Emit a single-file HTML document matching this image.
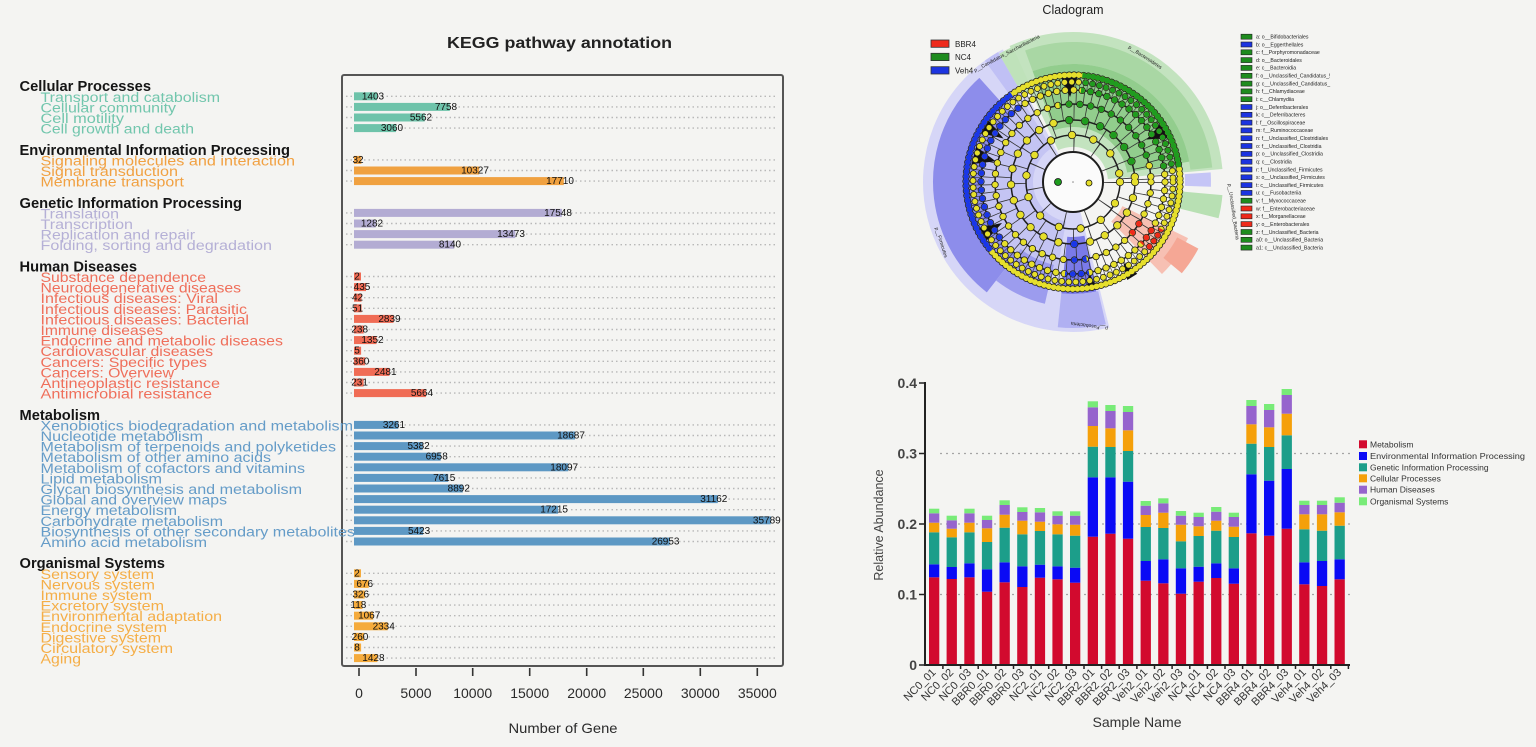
<!DOCTYPE html>
<html><head><meta charset="utf-8"><style>
html,body{margin:0;padding:0;background:#f4f4f2;}
svg{display:block;}
text{font-family:"Liberation Sans",Arial,sans-serif;}
</style></head><body>
<svg width="1536" height="747" viewBox="0 0 1536 747" xmlns="http://www.w3.org/2000/svg">
<rect x="0" y="0" width="1536" height="747" fill="#f4f4f2"/>

<!-- ================= LEFT: KEGG ================= -->
<text x="559.5" y="48" font-size="16" font-weight="bold" text-anchor="middle" textLength="225" lengthAdjust="spacingAndGlyphs" fill="#222">KEGG pathway annotation</text>

<rect x="342" y="75" width="441" height="591" rx="2" fill="none" stroke="#555" stroke-width="2"/>

<path fill="none" stroke="#b8b8b8" stroke-width="1.4" stroke-dasharray="1.5 3" d="M346 96.3H778M346 106.9H778M346 117.5H778M346 128.1H778M346 159.9H778M346 170.5H778M346 181.1H778M346 212.9H778M346 223.5H778M346 234.1H778M346 244.7H778M346 276.5H778M346 287.1H778M346 297.7H778M346 308.3H778M346 318.9H778M346 329.5H778M346 340.1H778M346 350.7H778M346 361.3H778M346 371.9H778M346 382.5H778M346 393.1H778M346 424.9H778M346 435.5H778M346 446.1H778M346 456.7H778M346 467.3H778M346 477.9H778M346 488.5H778M346 499.1H778M346 509.7H778M346 520.3H778M346 530.9H778M346 541.5H778M346 573.3H778M346 583.9H778M346 594.5H778M346 605.1H778M346 615.7H778M346 626.3H778M346 636.9H778M346 647.5H778M346 658.1H778"/>

<!-- bars -->
<g fill="#6ec3aa">
<rect x="354" y="92.3" width="23.1" height="8"/>
<rect x="354" y="102.9" width="95.8" height="8"/>
<rect x="354" y="113.5" width="70.7" height="8"/>
<rect x="354" y="124.1" width="42" height="8"/>
</g>
<g fill="#f0a140">
<rect x="354" y="155.9" width="7.4" height="8"/>
<rect x="354" y="166.5" width="125.2" height="8"/>
<rect x="354" y="177.1" width="209.8" height="8"/>
</g>
<g fill="#b3acd3">
<rect x="354" y="208.9" width="207.9" height="8"/>
<rect x="354" y="219.5" width="21.7" height="8"/>
<rect x="354" y="230.1" width="161.3" height="8"/>
<rect x="354" y="240.7" width="100.2" height="8"/>
</g>
<g fill="#f06c55">
<rect x="354" y="272.5" width="7" height="8"/>
<rect x="354" y="283.1" width="12" height="8"/>
<rect x="354" y="293.7" width="7.5" height="8"/>
<rect x="354" y="304.3" width="7.6" height="8"/>
<rect x="354" y="314.9" width="39.5" height="8"/>
<rect x="354" y="325.5" width="9.7" height="8"/>
<rect x="354" y="336.1" width="22.5" height="8"/>
<rect x="354" y="346.7" width="7.1" height="8"/>
<rect x="354" y="357.3" width="11.1" height="8"/>
<rect x="354" y="367.9" width="35.4" height="8"/>
<rect x="354" y="378.5" width="9.6" height="8"/>
<rect x="354" y="389.1" width="71.9" height="8"/>
</g>
<g fill="#5d98c4">
<rect x="354" y="420.9" width="44.3" height="8"/>
<rect x="354" y="431.5" width="221" height="8"/>
<rect x="354" y="442.1" width="68.6" height="8"/>
<rect x="354" y="452.7" width="86.7" height="8"/>
<rect x="354" y="463.3" width="214.2" height="8"/>
<rect x="354" y="473.9" width="94.2" height="8"/>
<rect x="354" y="484.5" width="108.8" height="8"/>
<rect x="354" y="495.1" width="363.8" height="8"/>
<rect x="354" y="505.7" width="204.1" height="8"/>
<rect x="354" y="516.3" width="416.8" height="8"/>
<rect x="354" y="526.9" width="69.1" height="8"/>
<rect x="354" y="537.5" width="315.6" height="8"/>
</g>
<g fill="#f5ab3c">
<rect x="354" y="569.3" width="7" height="8"/>
<rect x="354" y="579.9" width="14.7" height="8"/>
<rect x="354" y="590.5" width="10.7" height="8"/>
<rect x="354" y="601.1" width="8.4" height="8"/>
<rect x="354" y="611.7" width="19.2" height="8"/>
<rect x="354" y="622.3" width="33.7" height="8"/>
<rect x="354" y="632.9" width="10" height="8"/>
<rect x="354" y="643.5" width="7.1" height="8"/>
<rect x="354" y="654.1" width="23.4" height="8"/>
</g>

<!-- value labels -->
<g font-size="10" fill="#111" text-anchor="middle">
<text x="373" y="99.3">1403</text>
<text x="446" y="109.9">7758</text>
<text x="421" y="120.5">5562</text>
<text x="392" y="131.1">3060</text>
<text x="358" y="162.9">32</text>
<text x="475" y="173.5">10327</text>
<text x="560" y="184.1">17710</text>
<text x="558" y="215.9">17548</text>
<text x="372" y="226.5">1282</text>
<text x="511" y="237.1">13473</text>
<text x="450" y="247.7">8140</text>
<text x="357" y="279.5">2</text>
<text x="362" y="290.1">435</text>
<text x="357.5" y="300.7">42</text>
<text x="357.6" y="311.3">51</text>
<text x="389.5" y="321.9">2839</text>
<text x="359.7" y="332.5">238</text>
<text x="372.5" y="343.1">1352</text>
<text x="357" y="353.7">5</text>
<text x="361" y="364.3">360</text>
<text x="385.4" y="374.9">2481</text>
<text x="359.6" y="385.5">231</text>
<text x="422" y="396.1">5664</text>
<text x="394" y="427.9">3261</text>
<text x="571" y="438.5">18687</text>
<text x="418.6" y="449.1">5382</text>
<text x="436.7" y="459.7">6958</text>
<text x="564.2" y="470.3">18097</text>
<text x="444.2" y="480.9">7615</text>
<text x="458.8" y="491.5">8892</text>
<text x="713.8" y="502.1">31162</text>
<text x="554.1" y="512.7">17215</text>
<text x="766.8" y="523.3">35789</text>
<text x="419.1" y="533.9">5423</text>
<text x="665.6" y="544.5">26953</text>
<text x="357" y="576.3">2</text>
<text x="364.7" y="586.9">676</text>
<text x="360.7" y="597.5">326</text>
<text x="358.4" y="608.1">118</text>
<text x="369.2" y="618.7">1067</text>
<text x="383.7" y="629.3">2334</text>
<text x="360" y="639.9">260</text>
<text x="357" y="650.5">8</text>
<text x="373.4" y="661.1">1428</text>
</g>

<!-- category labels -->
<g font-size="14.5" font-weight="bold" fill="#151515" lengthAdjust="spacingAndGlyphs">
<text x="19.5" y="91.2" textLength="131.5" lengthAdjust="spacingAndGlyphs">Cellular Processes</text>
<text x="19.5" y="154.8" textLength="270.5" lengthAdjust="spacingAndGlyphs">Environmental Information Processing</text>
<text x="19.5" y="207.8" textLength="222.5" lengthAdjust="spacingAndGlyphs">Genetic Information Processing</text>
<text x="19.5" y="271.4" textLength="117.5" lengthAdjust="spacingAndGlyphs">Human Diseases</text>
<text x="19.5" y="419.8" textLength="80.5" lengthAdjust="spacingAndGlyphs">Metabolism</text>
<text x="19.5" y="568.2" textLength="145.5" lengthAdjust="spacingAndGlyphs">Organismal Systems</text>
</g>
<g font-size="13.5">
<g fill="#72c6ad">
<text x="40.5" y="101.8" textLength="179.5" lengthAdjust="spacingAndGlyphs">Transport and catabolism</text>
<text x="40.5" y="112.4" textLength="135.5" lengthAdjust="spacingAndGlyphs">Cellular community</text>
<text x="40.5" y="123" textLength="83.5" lengthAdjust="spacingAndGlyphs">Cell motility</text>
<text x="40.5" y="133.6" textLength="153.5" lengthAdjust="spacingAndGlyphs">Cell growth and death</text>
</g>
<g fill="#f1a142">
<text x="40.5" y="165.4" textLength="254.5" lengthAdjust="spacingAndGlyphs">Signaling molecules and interaction</text>
<text x="40.5" y="176" textLength="137.5" lengthAdjust="spacingAndGlyphs">Signal transduction</text>
<text x="40.5" y="186.6" textLength="143.5" lengthAdjust="spacingAndGlyphs">Membrane transport</text>
</g>
<g fill="#b5b0d6">
<text x="40.5" y="218.4" textLength="78.5" lengthAdjust="spacingAndGlyphs">Translation</text>
<text x="40.5" y="229" textLength="92.5" lengthAdjust="spacingAndGlyphs">Transcription</text>
<text x="40.5" y="239.6" textLength="154.5" lengthAdjust="spacingAndGlyphs">Replication and repair</text>
<text x="40.5" y="250.2" textLength="231.5" lengthAdjust="spacingAndGlyphs">Folding, sorting and degradation</text>
</g>
<g fill="#ef6f5b">
<text x="40.5" y="282" textLength="165.5" lengthAdjust="spacingAndGlyphs">Substance dependence</text>
<text x="40.5" y="292.6" textLength="200.5" lengthAdjust="spacingAndGlyphs">Neurodegenerative diseases</text>
<text x="40.5" y="303.2" textLength="177.5" lengthAdjust="spacingAndGlyphs">Infectious diseases: Viral</text>
<text x="40.5" y="313.8" textLength="206.5" lengthAdjust="spacingAndGlyphs">Infectious diseases: Parasitic</text>
<text x="40.5" y="324.4" textLength="208.5" lengthAdjust="spacingAndGlyphs">Infectious diseases: Bacterial</text>
<text x="40.5" y="335" textLength="122.5" lengthAdjust="spacingAndGlyphs">Immune diseases</text>
<text x="40.5" y="345.6" textLength="242.5" lengthAdjust="spacingAndGlyphs">Endocrine and metabolic diseases</text>
<text x="40.5" y="356.2" textLength="172.5" lengthAdjust="spacingAndGlyphs">Cardiovascular diseases</text>
<text x="40.5" y="366.8" textLength="166.5" lengthAdjust="spacingAndGlyphs">Cancers: Specific types</text>
<text x="40.5" y="377.4" textLength="133.5" lengthAdjust="spacingAndGlyphs">Cancers: Overview</text>
<text x="40.5" y="388" textLength="179.5" lengthAdjust="spacingAndGlyphs">Antineoplastic resistance</text>
<text x="40.5" y="398.6" textLength="171.5" lengthAdjust="spacingAndGlyphs">Antimicrobial resistance</text>
</g>
<g fill="#659cc8">
<text x="40.5" y="430.4" textLength="312.5" lengthAdjust="spacingAndGlyphs">Xenobiotics biodegradation and metabolism</text>
<text x="40.5" y="441" textLength="162.5" lengthAdjust="spacingAndGlyphs">Nucleotide metabolism</text>
<text x="40.5" y="451.6" textLength="295.5" lengthAdjust="spacingAndGlyphs">Metabolism of terpenoids and polyketides</text>
<text x="40.5" y="462.2" textLength="230.5" lengthAdjust="spacingAndGlyphs">Metabolism of other amino acids</text>
<text x="40.5" y="472.8" textLength="264.5" lengthAdjust="spacingAndGlyphs">Metabolism of cofactors and vitamins</text>
<text x="40.5" y="483.4" textLength="121.5" lengthAdjust="spacingAndGlyphs">Lipid metabolism</text>
<text x="40.5" y="494" textLength="261.5" lengthAdjust="spacingAndGlyphs">Glycan biosynthesis and metabolism</text>
<text x="40.5" y="504.6" textLength="186.5" lengthAdjust="spacingAndGlyphs">Global and overview maps</text>
<text x="40.5" y="515.2" textLength="136.5" lengthAdjust="spacingAndGlyphs">Energy metabolism</text>
<text x="40.5" y="525.8" textLength="182.5" lengthAdjust="spacingAndGlyphs">Carbohydrate metabolism</text>
<text x="40.5" y="536.4" textLength="314.5" lengthAdjust="spacingAndGlyphs">Biosynthesis of other secondary metabolites</text>
<text x="40.5" y="547" textLength="166.5" lengthAdjust="spacingAndGlyphs">Amino acid metabolism</text>
</g>
<g fill="#f5ae47">
<text x="40.5" y="578.8" textLength="113.5" lengthAdjust="spacingAndGlyphs">Sensory system</text>
<text x="40.5" y="589.4" textLength="114.5" lengthAdjust="spacingAndGlyphs">Nervous system</text>
<text x="40.5" y="600" textLength="111.5" lengthAdjust="spacingAndGlyphs">Immune system</text>
<text x="40.5" y="610.6" textLength="123.5" lengthAdjust="spacingAndGlyphs">Excretory system</text>
<text x="40.5" y="621.2" textLength="181.5" lengthAdjust="spacingAndGlyphs">Environmental adaptation</text>
<text x="40.5" y="631.8" textLength="126.5" lengthAdjust="spacingAndGlyphs">Endocrine system</text>
<text x="40.5" y="642.4" textLength="120.5" lengthAdjust="spacingAndGlyphs">Digestive system</text>
<text x="40.5" y="653" textLength="132.5" lengthAdjust="spacingAndGlyphs">Circulatory system</text>
<text x="40.5" y="663.6" textLength="40.5" lengthAdjust="spacingAndGlyphs">Aging</text>
</g>
</g>

<!-- x axis ticks -->
<path stroke="#333" stroke-width="1.6" d="M359 668V676M416 668V676M472.7 668V676M529.7 668V676M586.7 668V676M643.3 668V676M700.3 668V676M757.3 668V676"/>
<g font-size="14" fill="#2a2a2a" text-anchor="middle">
<text x="359" y="698">0</text>
<text x="416" y="698">5000</text>
<text x="472.7" y="698">10000</text>
<text x="529.7" y="698">15000</text>
<text x="586.7" y="698">20000</text>
<text x="643.3" y="698">25000</text>
<text x="700.3" y="698">30000</text>
<text x="757.3" y="698">35000</text>
</g>
<text x="563" y="733" font-size="14" fill="#2a2a2a" text-anchor="middle" textLength="109" lengthAdjust="spacingAndGlyphs">Number of Gene</text>

<!-- ================= CLADOGRAM ================= -->
<defs>
<mask id="mG" maskUnits="userSpaceOnUse" x="900" y="0" width="360" height="360"><circle cx="1073" cy="182" r="80" fill="none" stroke="#fff" stroke-width="160" stroke-dasharray="107.5 3000" transform="rotate(-85 1073 182)"/></mask>
<mask id="mG2" maskUnits="userSpaceOnUse" x="900" y="0" width="360" height="360"><circle cx="1073" cy="182" r="80" fill="none" stroke="#fff" stroke-width="160" stroke-dasharray="118.7 3000" transform="rotate(-100 1073 182)"/></mask>
<mask id="mB" maskUnits="userSpaceOnUse" x="900" y="0" width="360" height="360"><circle cx="1073" cy="182" r="80" fill="none" stroke="#fff" stroke-width="160" stroke-dasharray="132.6 3000" transform="rotate(140 1073 182)"/></mask>
<mask id="mF" maskUnits="userSpaceOnUse" x="900" y="0" width="360" height="360"><circle cx="1073" cy="182" r="80" fill="none" stroke="#fff" stroke-width="160" stroke-dasharray="20.9 3000" transform="rotate(80 1073 182)"/></mask>
<mask id="mR" maskUnits="userSpaceOnUse" x="900" y="0" width="360" height="360"><circle cx="1073" cy="182" r="80" fill="none" stroke="#fff" stroke-width="160" stroke-dasharray="19.5 3000" transform="rotate(28 1073 182)"/></mask>
</defs>

<text x="1073" y="14" font-size="12.5" fill="#222" text-anchor="middle">Cladogram</text>

<g fill="none">
<!-- blue sectors -->
<circle cx="1073" cy="182" r="90" stroke="#d6d6f7" stroke-width="120" stroke-dasharray="260.8 3000" transform="rotate(76 1073 182)"/>
<circle cx="1073" cy="182" r="67.5" stroke="#c4c4f3" stroke-width="55" stroke-dasharray="162.6 3000" transform="rotate(100 1073 182)"/>
<circle cx="1073" cy="182" r="116.5" stroke="#8d8deb" stroke-width="47" stroke-dasharray="203.3 3000" transform="rotate(128 1073 182)"/>
<circle cx="1073" cy="182" r="105" stroke="#9c9cee" stroke-width="40" stroke-dasharray="45.8 3000" transform="rotate(103 1073 182)"/>
<circle cx="1073" cy="182" r="83.5" stroke="#7a7ae8" stroke-width="57" stroke-dasharray="26.2 3000" transform="rotate(78 1073 182)"/>
<circle cx="1073" cy="182" r="129" stroke="#b0b0f2" stroke-width="34" stroke-dasharray="42.8 3000" transform="rotate(77 1073 182)"/>
<circle cx="1073" cy="182" r="125" stroke="#c5c5f6" stroke-width="26" stroke-dasharray="13.1 3000" transform="rotate(-4 1073 182)"/>
<circle cx="1073" cy="182" r="125" stroke="#c0c0f5" stroke-width="50" stroke-dasharray="13.1 3000" transform="rotate(-126 1073 182)"/>
<!-- green sectors -->
<circle cx="1073" cy="182" r="92.5" stroke="#c3e3bf" stroke-width="115" stroke-dasharray="177.6 3000" transform="rotate(-115 1073 182)"/>
<circle cx="1073" cy="182" r="129" stroke="#a9d7a4" stroke-width="22" stroke-dasharray="234.2 3000" transform="rotate(-110 1073 182)"/>
<circle cx="1073" cy="182" r="86.5" stroke="#92cd8d" stroke-width="63" stroke-dasharray="151 3000" transform="rotate(-110 1073 182)"/>
<circle cx="1073" cy="182" r="124" stroke="#bfe2ba" stroke-width="48" stroke-dasharray="13 3000" transform="rotate(-120 1073 182)"/>
<circle cx="1073" cy="182" r="124" stroke="#b8e0b3" stroke-width="52" stroke-dasharray="19.5 3000" transform="rotate(5 1073 182)"/>
<!-- red sectors -->
<circle cx="1073" cy="182" r="91.5" stroke="#f7c0b3" stroke-width="73" stroke-dasharray="31.9 3000" transform="rotate(26 1073 182)"/>
<circle cx="1073" cy="182" r="130" stroke="#f5a795" stroke-width="24" stroke-dasharray="27.2 3000" transform="rotate(28 1073 182)"/>
</g>

<circle cx="1073" cy="182" r="30" fill="#fbfbfb"/>

<!-- spokes -->
<g fill="none" stroke="#333">
<circle cx="1073" cy="182" r="100.5" stroke-width="15" stroke-dasharray="0.8 3.2" opacity="0.8"/>
<circle cx="1073" cy="182" r="85.5" stroke-width="15" stroke-dasharray="0.8 7"/>
<circle cx="1073" cy="182" r="70" stroke-width="16" stroke-dasharray="0.8 11"/>
<circle cx="1073" cy="182" r="54.5" stroke-width="15" stroke-dasharray="0.9 16"/>
<circle cx="1073" cy="182" r="39" stroke-width="16" stroke-dasharray="1 22"/>
</g>
<!-- rings -->
<g fill="none" stroke="#1e1e1e">
<circle cx="1073" cy="182" r="30" stroke-width="2"/>
<circle cx="1073" cy="182" r="47" stroke-width="1.5"/>
<circle cx="1073" cy="182" r="62" stroke-width="1.5"/>
<circle cx="1073" cy="182" r="78" stroke-width="1.5"/>
<circle cx="1073" cy="182" r="92" stroke-width="1.5"/>
</g>

<!-- black collapsed clades -->
<g fill="#111">
<polygon points="995.7,161.3 971.6,164.1 976.2,146.8"/>
<polygon points="1002,223 986.8,240.1 979.5,227.6"/>
<polygon points="1089,272.6 1097.7,289.1 1086.4,291.2"/>
<polygon points="1003.5,138.5 981.2,133.2 988.9,120.9"/>
<polygon points="1146.6,139.5 1162.5,121.6 1171.7,138"/>
<polygon points="1070,97 1059.8,74.8 1078.6,74.1"/>
<polygon points="1123.4,262.6 1137.3,273.7 1127.3,280"/>
</g>

<!-- node dots: outlines -->
<g fill="none" stroke="#1a1a1a" stroke-linecap="round">
<circle cx="1073" cy="182" r="107" stroke-width="7.2" stroke-dasharray="0.01 4.8"/>
<circle cx="1073" cy="182" r="100" stroke-width="6.7" stroke-dasharray="0.01 7"/>
<circle cx="1073" cy="182" r="92" stroke-width="7.2" stroke-dasharray="0.01 8.5"/>
<circle cx="1073" cy="182" r="78" stroke-width="7.2" stroke-dasharray="0.01 11"/>
<circle cx="1073" cy="182" r="62" stroke-width="8.2" stroke-dasharray="0.01 16"/>
<circle cx="1073" cy="182" r="47" stroke-width="8.2" stroke-dasharray="0.01 22"/>
</g>
<g fill="none" stroke="#e6df2c" stroke-linecap="round">
<circle cx="1073" cy="182" r="107" stroke-width="5.7" stroke-dasharray="0.01 4.8"/>
<circle cx="1073" cy="182" r="100" stroke-width="5.2" stroke-dasharray="0.01 7"/>
<circle cx="1073" cy="182" r="92" stroke-width="5.7" stroke-dasharray="0.01 8.5"/>
<circle cx="1073" cy="182" r="78" stroke-width="5.7" stroke-dasharray="0.01 11"/>
<circle cx="1073" cy="182" r="62" stroke-width="6.7" stroke-dasharray="0.01 16"/>
<circle cx="1073" cy="182" r="47" stroke-width="6.7" stroke-dasharray="0.01 22"/>
</g>
<!-- colored node overlays -->
<g fill="none" stroke="#1f9c1f" stroke-linecap="round" mask="url(#mG)">
<circle cx="1073" cy="182" r="107" stroke-width="5.7" stroke-dasharray="0.01 4.8"/>
<circle cx="1073" cy="182" r="100" stroke-width="5.2" stroke-dasharray="0.01 7"/>
<circle cx="1073" cy="182" r="92" stroke-width="5.7" stroke-dasharray="0.01 8.5"/>
</g>
<g fill="none" stroke="#1f9c1f" stroke-linecap="round" mask="url(#mG2)">
<circle cx="1073" cy="182" r="78" stroke-width="5.7" stroke-dasharray="0.01 11"/>
<circle cx="1073" cy="182" r="62" stroke-width="6.7" stroke-dasharray="0.01 16"/>
</g>
<g fill="none" stroke="#1a36e8" stroke-linecap="round" mask="url(#mB)">
<circle cx="1073" cy="182" r="107" stroke-width="5.7" stroke-dasharray="0.01 4.8"/>
<circle cx="1073" cy="182" r="92" stroke-width="5.7" stroke-dasharray="0.01 8.5"/>
</g>
<g fill="none" stroke="#1a36e8" stroke-linecap="round" mask="url(#mF)">
<circle cx="1073" cy="182" r="92" stroke-width="5.7" stroke-dasharray="0.01 8.5"/>
<circle cx="1073" cy="182" r="78" stroke-width="5.7" stroke-dasharray="0.01 11"/>
<circle cx="1073" cy="182" r="62" stroke-width="6.7" stroke-dasharray="0.01 16"/>
</g>
<g fill="none" stroke="#ee2a1a" stroke-linecap="round" mask="url(#mR)">
<circle cx="1073" cy="182" r="100" stroke-width="5.2" stroke-dasharray="0.01 7"/>
<circle cx="1073" cy="182" r="92" stroke-width="5.7" stroke-dasharray="0.01 8.5"/>
<circle cx="1073" cy="182" r="78" stroke-width="5.7" stroke-dasharray="0.01 11"/>
</g>

<circle cx="1058" cy="182" r="3.5" fill="#1f9c1f" stroke="#111" stroke-width="0.8"/>
<circle cx="1089" cy="183" r="3" fill="#e6df2c" stroke="#111" stroke-width="0.8"/>
<circle cx="1073" cy="182" r="0.8" fill="#888"/>

<!-- cladogram sector labels -->
<g font-size="5" fill="#222">
<text transform="translate(1128,48) rotate(33)">p__Bacteroidetes</text>
<text transform="translate(935,228) rotate(72)">p__Firmicutes</text>
<text transform="translate(1108,327) rotate(188)">p__Fusobacteria</text>
<text transform="translate(1228,184) rotate(82)">p__Unclassified_Bacteria</text>
<text transform="translate(975,72) rotate(-28)">p__Candidatus_Saccharibacteria</text>
</g>

<!-- cladogram legend -->
<rect x="931" y="40" width="18" height="7.3" fill="#ee2b1b" stroke="#333" stroke-width="0.8"/>
<rect x="931" y="53.3" width="18" height="7.3" fill="#1e8c1e" stroke="#333" stroke-width="0.8"/>
<rect x="931" y="66.7" width="18" height="7.3" fill="#1c34e0" stroke="#333" stroke-width="0.8"/>
<g font-size="8" fill="#222">
<text x="955" y="46.8">BBR4</text>
<text x="955" y="60.2">NC4</text>
<text x="955" y="73.6">Veh4</text>
</g>

<g stroke="#222" stroke-width="0.6">
<rect x="1241" y="34.2" width="11" height="5" fill="#1e8c1e"/>
<rect x="1241" y="42" width="11" height="5" fill="#1c34e0"/>
<rect x="1241" y="49.8" width="11" height="5" fill="#1e8c1e"/>
<rect x="1241" y="57.6" width="11" height="5" fill="#1e8c1e"/>
<rect x="1241" y="65.4" width="11" height="5" fill="#1e8c1e"/>
<rect x="1241" y="73.3" width="11" height="5" fill="#1e8c1e"/>
<rect x="1241" y="81.1" width="11" height="5" fill="#1e8c1e"/>
<rect x="1241" y="88.9" width="11" height="5" fill="#1e8c1e"/>
<rect x="1241" y="96.7" width="11" height="5" fill="#1e8c1e"/>
<rect x="1241" y="104.5" width="11" height="5" fill="#1c34e0"/>
<rect x="1241" y="112.3" width="11" height="5" fill="#1c34e0"/>
<rect x="1241" y="120.1" width="11" height="5" fill="#1c34e0"/>
<rect x="1241" y="127.9" width="11" height="5" fill="#1c34e0"/>
<rect x="1241" y="135.7" width="11" height="5" fill="#1c34e0"/>
<rect x="1241" y="143.5" width="11" height="5" fill="#1c34e0"/>
<rect x="1241" y="151.4" width="11" height="5" fill="#1c34e0"/>
<rect x="1241" y="159.2" width="11" height="5" fill="#1c34e0"/>
<rect x="1241" y="167" width="11" height="5" fill="#1c34e0"/>
<rect x="1241" y="174.8" width="11" height="5" fill="#1c34e0"/>
<rect x="1241" y="182.6" width="11" height="5" fill="#1c34e0"/>
<rect x="1241" y="190.4" width="11" height="5" fill="#1c34e0"/>
<rect x="1241" y="198.2" width="11" height="5" fill="#1e8c1e"/>
<rect x="1241" y="206" width="11" height="5" fill="#ee2a1a"/>
<rect x="1241" y="213.8" width="11" height="5" fill="#ee2a1a"/>
<rect x="1241" y="221.6" width="11" height="5" fill="#ee2a1a"/>
<rect x="1241" y="229.5" width="11" height="5" fill="#1e8c1e"/>
<rect x="1241" y="237.3" width="11" height="5" fill="#1e8c1e"/>
<rect x="1241" y="245.1" width="11" height="5" fill="#1e8c1e"/>
</g>
<g font-size="5.2" fill="#222">
<text x="1256" y="38.5">a: o__Bifidobacteriales</text>
<text x="1256" y="46.3">b: o__Eggerthellales</text>
<text x="1256" y="54.1">c: f__Porphyromonadaceae</text>
<text x="1256" y="61.9">d: o__Bacteroidales</text>
<text x="1256" y="69.7">e: c__Bacteroidia</text>
<text x="1256" y="77.6">f: o__Unclassified_Candidatus_!</text>
<text x="1256" y="85.4">g: c__Unclassified_Candidatus_</text>
<text x="1256" y="93.2">h: f__Chlamydiaceae</text>
<text x="1256" y="101">i: c__Chlamydiia</text>
<text x="1256" y="108.8">j: o__Deferribacterales</text>
<text x="1256" y="116.6">k: c__Deferribacteres</text>
<text x="1256" y="124.4">l: f__Oscillospiraceae</text>
<text x="1256" y="132.2">m: f__Ruminococcaceae</text>
<text x="1256" y="140">n: f__Unclassified_Clostridiales</text>
<text x="1256" y="147.8">o: f__Unclassified_Clostridia</text>
<text x="1256" y="155.7">p: o__Unclassified_Clostridia</text>
<text x="1256" y="163.5">q: c__Clostridia</text>
<text x="1256" y="171.3">r: f__Unclassified_Firmicutes</text>
<text x="1256" y="179.1">s: o__Unclassified_Firmicutes</text>
<text x="1256" y="186.9">t: c__Unclassified_Firmicutes</text>
<text x="1256" y="194.7">u: c__Fusobacteriia</text>
<text x="1256" y="202.5">v: f__Myxococcaceae</text>
<text x="1256" y="210.3">w: f__Enterobacteriaceae</text>
<text x="1256" y="218.1">x: f__Morganellaceae</text>
<text x="1256" y="225.9">y: o__Enterobacterales</text>
<text x="1256" y="233.8">z: f__Unclassified_Bacteria</text>
<text x="1256" y="241.6">a0: o__Unclassified_Bacteria</text>
<text x="1256" y="249.4">a1: c__Unclassified_Bacteria</text>
</g>

<!-- ================= RIGHT: stacked bars ================= -->
<path fill="none" stroke="#a5a5a5" stroke-width="1.3" stroke-dasharray="2 4" d="M940 453.5H1350M940 524H1350M940 594.5H1350"/>

<g>
<!-- b1 -->
<rect x="929" y="577.3" width="10.3" height="87.7" fill="#d20a2e"/><rect x="929" y="564.3" width="10.3" height="13" fill="#0a0af5"/><rect x="929" y="532.3" width="10.3" height="32" fill="#1c9e8a"/><rect x="929" y="522.7" width="10.3" height="9.6" fill="#f5a00a"/><rect x="929" y="513.3" width="10.3" height="9.4" fill="#9664cd"/><rect x="929" y="508.7" width="10.3" height="4.6" fill="#78eb78"/>
<!-- b2 -->
<rect x="946.6" y="579" width="10.3" height="86" fill="#d20a2e"/><rect x="946.6" y="567" width="10.3" height="12" fill="#0a0af5"/><rect x="946.6" y="537.3" width="10.3" height="29.7" fill="#1c9e8a"/><rect x="946.6" y="528.7" width="10.3" height="8.6" fill="#f5a00a"/><rect x="946.6" y="520.3" width="10.3" height="8.4" fill="#9664cd"/><rect x="946.6" y="515.7" width="10.3" height="4.6" fill="#78eb78"/>
<!-- b3 -->
<rect x="964.3" y="577.3" width="10.3" height="87.7" fill="#d20a2e"/><rect x="964.3" y="563.3" width="10.3" height="14" fill="#0a0af5"/><rect x="964.3" y="532.3" width="10.3" height="31" fill="#1c9e8a"/><rect x="964.3" y="522.7" width="10.3" height="9.6" fill="#f5a00a"/><rect x="964.3" y="513.3" width="10.3" height="9.4" fill="#9664cd"/><rect x="964.3" y="508.7" width="10.3" height="4.6" fill="#78eb78"/>
<!-- b4 -->
<rect x="981.9" y="591.7" width="10.3" height="73.3" fill="#d20a2e"/><rect x="981.9" y="569.3" width="10.3" height="22.4" fill="#0a0af5"/><rect x="981.9" y="542" width="10.3" height="27.3" fill="#1c9e8a"/><rect x="981.9" y="528.3" width="10.3" height="13.7" fill="#f5a00a"/><rect x="981.9" y="520" width="10.3" height="8.3" fill="#9664cd"/><rect x="981.9" y="515.7" width="10.3" height="4.3" fill="#78eb78"/>
<!-- b5 -->
<rect x="999.5" y="582.3" width="10.3" height="82.7" fill="#d20a2e"/><rect x="999.5" y="562.3" width="10.3" height="20" fill="#0a0af5"/><rect x="999.5" y="527.7" width="10.3" height="34.6" fill="#1c9e8a"/><rect x="999.5" y="514.7" width="10.3" height="13" fill="#f5a00a"/><rect x="999.5" y="505" width="10.3" height="9.7" fill="#9664cd"/><rect x="999.5" y="500.3" width="10.3" height="4.7" fill="#78eb78"/>
<!-- b6 -->
<rect x="1017.2" y="587" width="10.3" height="78" fill="#d20a2e"/><rect x="1017.2" y="566.3" width="10.3" height="20.7" fill="#0a0af5"/><rect x="1017.2" y="534.3" width="10.3" height="32" fill="#1c9e8a"/><rect x="1017.2" y="520.7" width="10.3" height="13.6" fill="#f5a00a"/><rect x="1017.2" y="512" width="10.3" height="8.7" fill="#9664cd"/><rect x="1017.2" y="507.3" width="10.3" height="4.7" fill="#78eb78"/>
<!-- b7 -->
<rect x="1034.8" y="577.7" width="10.3" height="87.3" fill="#d20a2e"/><rect x="1034.8" y="564.7" width="10.3" height="13" fill="#0a0af5"/><rect x="1034.8" y="531" width="10.3" height="33.7" fill="#1c9e8a"/><rect x="1034.8" y="521.7" width="10.3" height="9.3" fill="#f5a00a"/><rect x="1034.8" y="512.3" width="10.3" height="9.4" fill="#9664cd"/><rect x="1034.8" y="508" width="10.3" height="4.3" fill="#78eb78"/>
<!-- b8 -->
<rect x="1052.4" y="579.3" width="10.3" height="85.7" fill="#d20a2e"/><rect x="1052.4" y="566.3" width="10.3" height="13" fill="#0a0af5"/><rect x="1052.4" y="534.3" width="10.3" height="32" fill="#1c9e8a"/><rect x="1052.4" y="524.3" width="10.3" height="10" fill="#f5a00a"/><rect x="1052.4" y="515.7" width="10.3" height="8.6" fill="#9664cd"/><rect x="1052.4" y="511.3" width="10.3" height="4.4" fill="#78eb78"/>
<!-- b9 -->
<rect x="1070" y="582.7" width="10.3" height="82.3" fill="#d20a2e"/><rect x="1070" y="567.7" width="10.3" height="15" fill="#0a0af5"/><rect x="1070" y="535.7" width="10.3" height="32" fill="#1c9e8a"/><rect x="1070" y="524.7" width="10.3" height="11" fill="#f5a00a"/><rect x="1070" y="515.7" width="10.3" height="9" fill="#9664cd"/><rect x="1070" y="511.3" width="10.3" height="4.4" fill="#78eb78"/>
<!-- b10 -->
<rect x="1087.7" y="536.7" width="10.3" height="128.3" fill="#d20a2e"/><rect x="1087.7" y="477.3" width="10.3" height="59.4" fill="#0a0af5"/><rect x="1087.7" y="446.7" width="10.3" height="30.6" fill="#1c9e8a"/><rect x="1087.7" y="426" width="10.3" height="20.7" fill="#f5a00a"/><rect x="1087.7" y="407.3" width="10.3" height="18.7" fill="#9664cd"/><rect x="1087.7" y="401.3" width="10.3" height="6" fill="#78eb78"/>
<!-- b11 -->
<rect x="1105.3" y="533.7" width="10.3" height="131.3" fill="#d20a2e"/><rect x="1105.3" y="477.3" width="10.3" height="56.4" fill="#0a0af5"/><rect x="1105.3" y="447" width="10.3" height="30.3" fill="#1c9e8a"/><rect x="1105.3" y="428.3" width="10.3" height="18.7" fill="#f5a00a"/><rect x="1105.3" y="411" width="10.3" height="17.3" fill="#9664cd"/><rect x="1105.3" y="405" width="10.3" height="6" fill="#78eb78"/>
<!-- b12 -->
<rect x="1122.9" y="538.7" width="10.3" height="126.3" fill="#d20a2e"/><rect x="1122.9" y="481.7" width="10.3" height="57" fill="#0a0af5"/><rect x="1122.9" y="451" width="10.3" height="30.7" fill="#1c9e8a"/><rect x="1122.9" y="430.3" width="10.3" height="20.7" fill="#f5a00a"/><rect x="1122.9" y="412" width="10.3" height="18.3" fill="#9664cd"/><rect x="1122.9" y="406" width="10.3" height="6" fill="#78eb78"/>
<!-- b13 -->
<rect x="1140.6" y="580.7" width="10.3" height="84.3" fill="#d20a2e"/><rect x="1140.6" y="561" width="10.3" height="19.7" fill="#0a0af5"/><rect x="1140.6" y="527" width="10.3" height="34" fill="#1c9e8a"/><rect x="1140.6" y="515" width="10.3" height="12" fill="#f5a00a"/><rect x="1140.6" y="505.7" width="10.3" height="9.3" fill="#9664cd"/><rect x="1140.6" y="501" width="10.3" height="4.7" fill="#78eb78"/>
<!-- b14 -->
<rect x="1158.2" y="583.3" width="10.3" height="81.7" fill="#d20a2e"/><rect x="1158.2" y="559.3" width="10.3" height="24" fill="#0a0af5"/><rect x="1158.2" y="528" width="10.3" height="31.3" fill="#1c9e8a"/><rect x="1158.2" y="512.7" width="10.3" height="15.3" fill="#f5a00a"/><rect x="1158.2" y="503.3" width="10.3" height="9.4" fill="#9664cd"/><rect x="1158.2" y="498.3" width="10.3" height="5" fill="#78eb78"/>
<!-- b15 -->
<rect x="1175.8" y="593.7" width="10.3" height="71.3" fill="#d20a2e"/><rect x="1175.8" y="568.3" width="10.3" height="25.4" fill="#0a0af5"/><rect x="1175.8" y="541.3" width="10.3" height="27" fill="#1c9e8a"/><rect x="1175.8" y="524.7" width="10.3" height="16.6" fill="#f5a00a"/><rect x="1175.8" y="515.7" width="10.3" height="9" fill="#9664cd"/><rect x="1175.8" y="511" width="10.3" height="4.7" fill="#78eb78"/>
<!-- b16 -->
<rect x="1193.5" y="581.7" width="10.3" height="83.3" fill="#d20a2e"/><rect x="1193.5" y="566.7" width="10.3" height="15" fill="#0a0af5"/><rect x="1193.5" y="536" width="10.3" height="30.7" fill="#1c9e8a"/><rect x="1193.5" y="526.3" width="10.3" height="9.7" fill="#f5a00a"/><rect x="1193.5" y="517" width="10.3" height="9.3" fill="#9664cd"/><rect x="1193.5" y="512.7" width="10.3" height="4.3" fill="#78eb78"/>
<!-- b17 -->
<rect x="1211.1" y="578" width="10.3" height="87" fill="#d20a2e"/><rect x="1211.1" y="563.3" width="10.3" height="14.7" fill="#0a0af5"/><rect x="1211.1" y="530.7" width="10.3" height="32.6" fill="#1c9e8a"/><rect x="1211.1" y="520.7" width="10.3" height="10" fill="#f5a00a"/><rect x="1211.1" y="511.7" width="10.3" height="9" fill="#9664cd"/><rect x="1211.1" y="507" width="10.3" height="4.7" fill="#78eb78"/>
<!-- b18 -->
<rect x="1228.7" y="583.7" width="10.3" height="81.3" fill="#d20a2e"/><rect x="1228.7" y="568.3" width="10.3" height="15.4" fill="#0a0af5"/><rect x="1228.7" y="537" width="10.3" height="31.3" fill="#1c9e8a"/><rect x="1228.7" y="526.7" width="10.3" height="10.3" fill="#f5a00a"/><rect x="1228.7" y="517" width="10.3" height="9.7" fill="#9664cd"/><rect x="1228.7" y="512.7" width="10.3" height="4.3" fill="#78eb78"/>
<!-- b19 -->
<rect x="1246.3" y="533.3" width="10.3" height="131.7" fill="#d20a2e"/><rect x="1246.3" y="474.3" width="10.3" height="59" fill="#0a0af5"/><rect x="1246.3" y="443.7" width="10.3" height="30.6" fill="#1c9e8a"/><rect x="1246.3" y="424.3" width="10.3" height="19.4" fill="#f5a00a"/><rect x="1246.3" y="406" width="10.3" height="18.3" fill="#9664cd"/><rect x="1246.3" y="400" width="10.3" height="6" fill="#78eb78"/>
<!-- b20 -->
<rect x="1264" y="535.7" width="10.3" height="129.3" fill="#d20a2e"/><rect x="1264" y="480.7" width="10.3" height="55" fill="#0a0af5"/><rect x="1264" y="447" width="10.3" height="33.7" fill="#1c9e8a"/><rect x="1264" y="427.3" width="10.3" height="19.7" fill="#f5a00a"/><rect x="1264" y="410" width="10.3" height="17.3" fill="#9664cd"/><rect x="1264" y="404" width="10.3" height="6" fill="#78eb78"/>
<!-- b21 -->
<rect x="1281.6" y="528.7" width="10.3" height="136.3" fill="#d20a2e"/><rect x="1281.6" y="469" width="10.3" height="59.7" fill="#0a0af5"/><rect x="1281.6" y="435.3" width="10.3" height="33.7" fill="#1c9e8a"/><rect x="1281.6" y="413.7" width="10.3" height="21.6" fill="#f5a00a"/><rect x="1281.6" y="395" width="10.3" height="18.7" fill="#9664cd"/><rect x="1281.6" y="389" width="10.3" height="6" fill="#78eb78"/>
<!-- b22 -->
<rect x="1299.2" y="584.3" width="10.3" height="80.7" fill="#d20a2e"/><rect x="1299.2" y="562.3" width="10.3" height="22" fill="#0a0af5"/><rect x="1299.2" y="529.3" width="10.3" height="33" fill="#1c9e8a"/><rect x="1299.2" y="514.3" width="10.3" height="15" fill="#f5a00a"/><rect x="1299.2" y="505" width="10.3" height="9.3" fill="#9664cd"/><rect x="1299.2" y="500.7" width="10.3" height="4.3" fill="#78eb78"/>
<!-- b23 -->
<rect x="1316.9" y="586" width="10.3" height="79" fill="#d20a2e"/><rect x="1316.9" y="561" width="10.3" height="25" fill="#0a0af5"/><rect x="1316.9" y="530.7" width="10.3" height="30.3" fill="#1c9e8a"/><rect x="1316.9" y="514.3" width="10.3" height="16.4" fill="#f5a00a"/><rect x="1316.9" y="505" width="10.3" height="9.3" fill="#9664cd"/><rect x="1316.9" y="500.7" width="10.3" height="4.3" fill="#78eb78"/>
<!-- b24 -->
<rect x="1334.5" y="579.3" width="10.3" height="85.7" fill="#d20a2e"/><rect x="1334.5" y="559.3" width="10.3" height="20" fill="#0a0af5"/><rect x="1334.5" y="525.7" width="10.3" height="33.6" fill="#1c9e8a"/><rect x="1334.5" y="512.3" width="10.3" height="13.4" fill="#f5a00a"/><rect x="1334.5" y="502.7" width="10.3" height="9.6" fill="#9664cd"/><rect x="1334.5" y="497.3" width="10.3" height="5.4" fill="#78eb78"/>
</g>

<!-- axes -->
<line x1="925" y1="382" x2="925" y2="666" stroke="#222" stroke-width="2"/>
<line x1="924" y1="665" x2="1350" y2="665" stroke="#222" stroke-width="2"/>
<path stroke="#222" stroke-width="1.5" d="M919 383H925M919 453.5H925M919 524H925M919 594.5H925M919 665H925"/>
<path stroke="#222" stroke-width="1.5" d="M942.9 665v4M960.6 665v4M978.2 665v4M995.8 665v4M1013.5 665v4M1031.1 665v4M1048.7 665v4M1066.3 665v4M1084 665v4M1101.6 665v4M1119.2 665v4M1136.9 665v4M1154.5 665v4M1172.1 665v4M1189.8 665v4M1207.4 665v4M1225 665v4M1242.6 665v4M1260.3 665v4M1277.9 665v4M1295.5 665v4M1313.2 665v4M1330.8 665v4M1348.4 665v4"/>
<g font-size="14" font-weight="bold" fill="#444" text-anchor="end">
<text x="917" y="388">0.4</text>
<text x="917" y="458.5">0.3</text>
<text x="917" y="529">0.2</text>
<text x="917" y="599.5">0.1</text>
<text x="917" y="670">0</text>
</g>
<text transform="translate(883,525) rotate(-90)" font-size="12.5" fill="#444" text-anchor="middle">Relative Abundance</text>

<g font-size="11" fill="#333" text-anchor="end">
<text transform="translate(936.5,673) rotate(-45)">NC0_01</text>
<text transform="translate(954.1,673) rotate(-45)">NC0_02</text>
<text transform="translate(971.8,673) rotate(-45)">NC0_03</text>
<text transform="translate(989.4,673) rotate(-45)">BBR0_01</text>
<text transform="translate(1007,673) rotate(-45)">BBR0_02</text>
<text transform="translate(1024.7,673) rotate(-45)">BBR0_03</text>
<text transform="translate(1042.3,673) rotate(-45)">NC2_01</text>
<text transform="translate(1059.9,673) rotate(-45)">NC2_02</text>
<text transform="translate(1077.5,673) rotate(-45)">NC2_03</text>
<text transform="translate(1095.2,673) rotate(-45)">BBR2_01</text>
<text transform="translate(1112.8,673) rotate(-45)">BBR2_02</text>
<text transform="translate(1130.4,673) rotate(-45)">BBR2_03</text>
<text transform="translate(1148.1,673) rotate(-45)">Veh2_01</text>
<text transform="translate(1165.7,673) rotate(-45)">Veh2_02</text>
<text transform="translate(1183.3,673) rotate(-45)">Veh2_03</text>
<text transform="translate(1201,673) rotate(-45)">NC4_01</text>
<text transform="translate(1218.6,673) rotate(-45)">NC4_02</text>
<text transform="translate(1236.2,673) rotate(-45)">NC4_03</text>
<text transform="translate(1253.8,673) rotate(-45)">BBR4_01</text>
<text transform="translate(1271.5,673) rotate(-45)">BBR4_02</text>
<text transform="translate(1289.1,673) rotate(-45)">BBR4_03</text>
<text transform="translate(1306.7,673) rotate(-45)">Veh4_01</text>
<text transform="translate(1324.4,673) rotate(-45)">Veh4_02</text>
<text transform="translate(1342,673) rotate(-45)">Veh4_03</text>
</g>
<text x="1137" y="727" font-size="14" fill="#333" text-anchor="middle" textLength="89" lengthAdjust="spacingAndGlyphs">Sample Name</text>

<!-- bar legend -->
<g>
<rect x="1359" y="440.3" width="8" height="8" fill="#d20a2e"/>
<rect x="1359" y="452" width="8" height="8" fill="#0a0af5"/>
<rect x="1359" y="463.3" width="8" height="8" fill="#1c9e8a"/>
<rect x="1359" y="474.3" width="8" height="8" fill="#f5a00a"/>
<rect x="1359" y="485.7" width="8" height="8" fill="#9664cd"/>
<rect x="1359" y="497.3" width="8" height="8" fill="#78eb78"/>
</g>
<g font-size="8.5" fill="#333">
<text x="1370" y="447.3">Metabolism</text>
<text x="1370" y="459" textLength="155" lengthAdjust="spacingAndGlyphs">Environmental Information Processing</text>
<text x="1370" y="470.3">Genetic Information Processing</text>
<text x="1370" y="481.3">Cellular Processes</text>
<text x="1370" y="492.7">Human Diseases</text>
<text x="1370" y="504.3">Organismal Systems</text>
</g>
</svg>
</body></html>
